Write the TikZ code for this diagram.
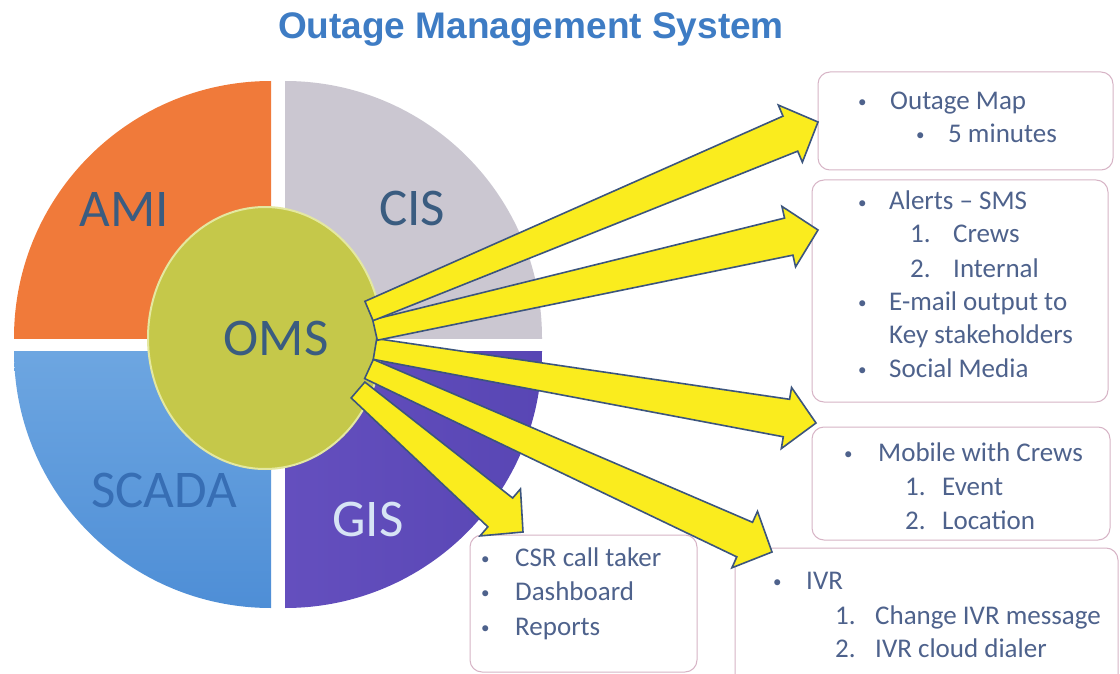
\documentclass[tikz,border=0pt]{standalone}
\usepackage{fontspec}
\setmainfont{Carlito}
\newfontfamily\titlefont{Liberation Sans}
\usetikzlibrary{calc,shapes.geometric}

\definecolor{amiC}{RGB}{240,122,58}
\definecolor{cisC}{RGB}{203,199,209}
\definecolor{scadaA}{RGB}{140,190,236}
\definecolor{scadaB}{RGB}{78,142,214}
\definecolor{gisA}{RGB}{112,88,200}
\definecolor{gisB}{RGB}{88,70,180}
\definecolor{omsC}{RGB}{197,200,74}
\definecolor{omsRim}{RGB}{228,232,160}
\definecolor{labC}{RGB}{58,92,128}
\definecolor{scadaT}{RGB}{55,110,180}
\definecolor{gisT}{RGB}{215,228,245}
\definecolor{txtC}{RGB}{78,98,140}
\definecolor{titleC}{RGB}{62,124,196}
\definecolor{arrowFill}{RGB}{250,236,30}
\definecolor{arrowLine}{RGB}{60,85,125}
\definecolor{boxLine}{RGB}{215,180,198}

\newcommand\blkarrow[2]{%
  \coordinate (bh) at ($(#2)!30pt!(#1)$);
  \filldraw[blkarr] ($(#1)!10.5pt!90:(#2)$) -- ($(bh)!19pt!90:(#2)$) -- ($(bh)!31pt!90:(#2)$) -- (#2)
     -- ($(bh)!31pt!-90:(#2)$) -- ($(bh)!19pt!-90:(#2)$) -- ($(#1)!10.5pt!-90:(#2)$) -- cycle;}

\begin{document}
\begin{tikzpicture}[x=1pt,y=-1pt,
  blkarr/.style={fill=arrowFill,draw=arrowLine,line width=1.6pt,line join=miter},
  infobox/.style={draw=boxLine,line width=1pt,rounded corners=12pt,fill=white,inner sep=0pt},
  txt/.style={anchor=base west,inner sep=0pt,text=txtC,font=\fontsize{27}{32}\selectfont},
  bul/.style={anchor=base west,inner sep=0pt,text=txtC,font=\fontsize{17}{20}\selectfont,yshift=2pt},
  lab/.style={inner sep=0pt,font=\fontsize{53}{60}\selectfont}]
\clip (0,0) rectangle (1120,674);
\fill[white] (0,0) rectangle (1120,674);

% title
\node[inner sep=0pt,text=titleC,font=\titlefont\bfseries\fontsize{37}{44}\selectfont] (title) at (531,30) {Outage Management System};

% pie quadrants
\begin{scope}
  \clip (0,0) rectangle (271,338);
  \fill[amiC] (271,338) circle[radius=257pt];
\end{scope}
\begin{scope}
  \clip (285,0) rectangle (600,338);
  \fill[cisC] (285,338) circle[radius=257pt];
\end{scope}
\begin{scope}
  \clip (0,351) rectangle (271,674);
  \shade[top color=scadaA,bottom color=scadaB] (271,351) circle[radius=257pt];
\end{scope}
\begin{scope}
  \clip (285,351) rectangle (600,674);
  \shade[left color=gisA,right color=gisB] (285,351) circle[radius=257pt];
\end{scope}

\node[lab,text=labC] (ami) at (124,209) {AMI};
\node[lab,text=labC] (cis) at (412,208) {CIS};
\node[lab,text=scadaT] (scada) at (164,490) {SCADA};
\node[lab,text=gisT] (gis) at (368,519) {GIS};

% OMS hub
\node[ellipse,minimum width=234pt,minimum height=262pt,fill=omsC,draw=omsRim,line width=2pt] (oms) at (265,338) {};
\node[lab,text=labC] (omslab) at (276,338) {OMS};

% output boxes
\node[infobox,minimum width=295pt,minimum height=98pt] (b1) at (965.5,121) {};
\node[infobox,minimum width=296pt,minimum height=222pt] (b2) at (960,291) {};
\node[infobox,minimum width=298pt,minimum height=113pt] (b3) at (961,483.5) {};
\node[infobox,minimum width=383pt,minimum height=140pt] (b4) at (926.5,618) {};
\node[infobox,minimum width=227pt,minimum height=137pt] (b5) at (583.5,603.5) {};

% box 1
\node[bul] (b1a) at (858,110) {•};
\node[txt] (b1b) at (890,110) {Outage Map};
\node[bul] (b1c) at (916,143) {•};
\node[txt] (b1d) at (948,143) {5 minutes};
% box 2
\node[bul] (b2a) at (858,210) {•};
\node[txt] (b2b) at (889,210) {Alerts – SMS};
\node[txt] (b2c) at (910,243) {1.};
\node[txt] (b2d) at (953,243) {Crews};
\node[txt] (b2e) at (910,277) {2.};
\node[txt] (b2f) at (953,277) {Internal};
\node[bul] (b2g) at (858,310) {•};
\node[txt] (b2h) at (889,310) {E-mail output to};
\node[txt] (b2i) at (889,343) {Key stakeholders};
\node[bul] (b2j) at (858,377) {•};
\node[txt] (b2k) at (889,377) {Social Media};
% box 3
\node[bul] (b3a) at (844,461) {•};
\node[txt] (b3b) at (878,461) {Mobile with Crews};
\node[txt] (b3c) at (905,495) {1.};
\node[txt] (b3d) at (942,495) {Event};
\node[txt] (b3e) at (905,529) {2.};
\node[txt] (b3f) at (942,529) {Location};
% box 4
\node[bul] (b4a) at (773,589) {•};
\node[txt] (b4b) at (806,589) {IVR};
\node[txt] (b4c) at (835,624) {1.};
\node[txt] (b4d) at (875,624) {Change IVR message};
\node[txt] (b4e) at (835,657) {2.};
\node[txt] (b4f) at (875,657) {IVR cloud dialer};
% box 5
\node[bul] (b5a) at (481,566) {•};
\node[txt] (b5b) at (515,566) {CSR call taker};
\node[bul] (b5c) at (481,600) {•};
\node[txt] (b5d) at (515,600) {Dashboard};
\node[bul] (b5e) at (481,635) {•};
\node[txt] (b5f) at (515,635) {Reports};

% arrow tails on the OMS hub and tips at the boxes
\coordinate (s1) at (369,311);
\coordinate (s2) at (375,330);
\coordinate (s3) at (375,349);
\coordinate (s4) at (369,369);
\coordinate (s5) at (358,390);
\coordinate (t1) at (818,122);
\coordinate (t2) at (818,230);
\coordinate (t3) at (816,423);
\coordinate (t4) at (772,552);
\coordinate (t5) at (523,532);

\blkarrow{s5}{t5}
\blkarrow{s4}{t4}
\blkarrow{s3}{t3}
\blkarrow{s2}{t2}
\blkarrow{s1}{t1}
\end{tikzpicture}
\end{document}
